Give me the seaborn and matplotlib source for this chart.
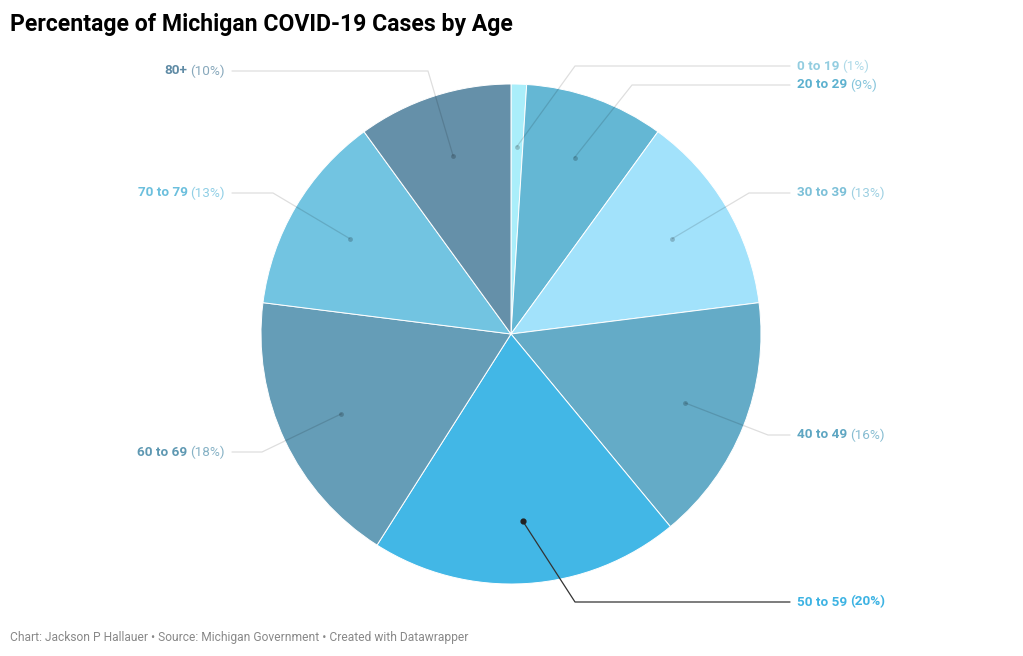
import numpy as np
import matplotlib
matplotlib.use("Agg")
import matplotlib.pyplot as plt
import seaborn as sns

# data
ages = ["0 to 19", "20 to 29", "30 to 39", "40 to 49", "50 to 59", "60 to 69", "70 to 79", "80+"]
shares = [1, 9, 13, 16, 20, 18, 13, 10]
slice_colors = ["#aaeefa", "#64b7d4", "#a2e2fb", "#64abc7", "#42b7e6", "#659db7", "#72c4e1", "#6590a9"]
label_colors = ["#93cde0", "#5cb1cf", "#7cc0d8", "#5ea6c2", "#3db3e3", "#5e98b2", "#6bbfdd", "#5f8ba5"]
highlight = "50 to 59"

sns.set_theme(style="white")
plt.rcParams["font.family"] = ["Roboto", "DejaVu Sans"]

W, H = 1023, 656
fig = plt.figure(figsize=(W / 100, H / 100), dpi=100)
ax = fig.add_axes([0, 0, 1, 1])

def Y(y):
    return H - y

cx, cy, R = 511, 334, 250
wedges, _ = ax.pie(shares, colors=slice_colors, startangle=90, counterclock=False,
                   center=(cx, Y(cy)), radius=R,
                   wedgeprops=dict(edgecolor="white", linewidth=0.7))
ax.set_xlim(0, W)
ax.set_ylim(0, H)
ax.set_aspect("equal")
ax.axis("off")

# label layout (pixel coords, y down): elbow x, label y
elbow_x = [575, 632, 749, 768, 575, 262, 273, 428]
label_y = [66, 85, 193, 435, 602, 452, 193, 71]
right_x, left_x = 790, 232
fs = 9.7

fig.canvas.draw()
renderer = fig.canvas.get_renderer()

cum = np.cumsum([0] + shares[:-1])
total = sum(shares)
for i, age in enumerate(ages):
    mid = (cum[i] + shares[i] / 2) / total * 2 * np.pi
    dx, dy = cx + 0.75 * R * np.sin(mid), cy - 0.75 * R * np.cos(mid)
    right = dx > cx
    hl = age == highlight
    end_x = right_x if right else left_x
    xs = [dx, elbow_x[i], end_x]
    ys = [Y(dy), Y(label_y[i]), Y(label_y[i])]
    if hl:
        ax.plot(xs, ys, color="#333333", lw=0.9, zorder=5)
        ax.scatter([dx], [Y(dy)], s=12, color="#222222", zorder=6)
    else:
        ax.plot(xs, ys, color="black", alpha=0.13, lw=0.9, zorder=5)
        ax.scatter([dx], [Y(dy)], s=12, color="black", alpha=0.2, lw=0, zorder=6)

    pct = f"({shares[i]}%)"
    c = label_colors[i]
    if right:
        t = ax.text(797, Y(label_y[i]), age, ha="left", va="center", fontsize=fs,
                    fontweight="bold", color=c)
        bb = t.get_window_extent(renderer)
        ax.text(bb.x1 + 3, Y(label_y[i]), pct, ha="left", va="center", fontsize=fs,
                fontweight="bold" if hl else "normal", color=c, alpha=1 if hl else 0.75)
    else:
        t = ax.text(225, Y(label_y[i]), pct, ha="right", va="center", fontsize=fs,
                    fontweight="bold" if hl else "normal", color=c, alpha=1 if hl else 0.75)
        bb = t.get_window_extent(renderer)
        ax.text(bb.x0 - 3, Y(label_y[i]), age, ha="right", va="center", fontsize=fs,
                fontweight="bold", color=c)

fig.text(10 / W, 1 - 24 / H, "Percentage of Michigan COVID-19 Cases by Age",
         ha="left", va="center", fontsize=16.6, fontweight="bold", color="black")
fig.text(10 / W, 1 - 638 / H,
         "Chart: Jackson P Hallauer • Source: Michigan Government • Created with Datawrapper",
         ha="left", va="center", fontsize=8.65, color="#888888")

fig.savefig("out.png", dpi=100)
